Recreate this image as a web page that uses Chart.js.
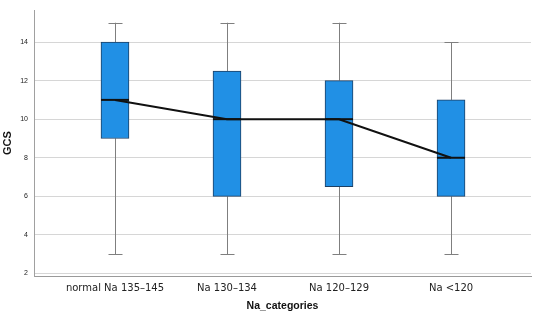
<!DOCTYPE html>
<html>
<head>
<meta charset="utf-8">
<script src="https://cdn.jsdelivr.net/npm/chart.js@4.4.0/dist/chart.umd.min.js"></script>
<style>
  html, body { margin: 0; padding: 0; background: #fff; }
  #wrap { width: 536px; height: 318px; position: relative; }
</style>
</head>
<body>
<div id="wrap"><canvas id="box-chart"></canvas></div>
<script>
const categories = ['normal Na 135\u2013145', 'Na 130\u2013134', 'Na 120\u2013129', 'Na <120'];
const mins = [3, 3, 3, 3];
const q1s = [9, 6, 6.5, 6];
const medians = [11, 10, 10, 8];
const q3s = [14, 12.5, 12, 11];
const maxs = [15, 15, 15, 14];
const yTicks = [2, 4, 6, 8, 10, 12, 14];

const FONT = '"Liberation Sans", Arial, sans-serif';
const TICK_FONT = '"DejaVu Sans", sans-serif';

// whiskers, caps and median bars drawn through the scales
const boxExtras = {
  id: 'boxExtras',
  beforeDatasetsDraw(chart) {
    const { ctx, scales: { x, y } } = chart;
    ctx.save();
    ctx.strokeStyle = '#7f7f7f';
    ctx.lineWidth = 1;
    categories.forEach((c, i) => {
      const cx = Math.round(x.getPixelForValue(i)) + 0.5;
      const capW = 7;
      ctx.beginPath();
      ctx.moveTo(cx, y.getPixelForValue(q3s[i]));
      ctx.lineTo(cx, y.getPixelForValue(maxs[i]));
      ctx.moveTo(cx, y.getPixelForValue(q1s[i]));
      ctx.lineTo(cx, y.getPixelForValue(mins[i]));
      const yt = Math.round(y.getPixelForValue(maxs[i])) + 0.5;
      const yb = Math.round(y.getPixelForValue(mins[i])) + 0.5;
      ctx.moveTo(cx - capW, yt);
      ctx.lineTo(cx + capW, yt);
      ctx.moveTo(cx - capW, yb);
      ctx.lineTo(cx + capW, yb);
      ctx.stroke();
    });
    ctx.restore();
  },
  afterDatasetsDraw(chart) {
    const { ctx, scales: { x, y } } = chart;
    const meta = chart.getDatasetMeta(1);
    ctx.save();
    ctx.strokeStyle = '#111';
    ctx.lineWidth = 2;
    meta.data.forEach((bar, i) => {
      const half = bar.width / 2;
      const cx = x.getPixelForValue(i);
      const my = y.getPixelForValue(medians[i]);
      ctx.beginPath();
      ctx.moveTo(cx - half, my);
      ctx.lineTo(cx + half, my);
      ctx.stroke();
    });
    ctx.restore();
  }
};

const ctx = document.getElementById('box-chart');
new Chart(ctx, {
  type: 'bar',
  data: {
    datasets: [
      {
        type: 'line',
        data: medians.map((v, i) => ({ x: i, y: v })),
        borderColor: '#111',
        borderWidth: 2,
        pointRadius: 0,
        fill: false,
        tension: 0,
        order: 0
      },
      {
        data: categories.map((c, i) => ({ x: i, y: [q1s[i], q3s[i]] })),
        backgroundColor: '#2190e5',
        borderColor: '#1d3f63',
        borderWidth: 1,
        borderSkipped: false,
        barThickness: 28,
        order: 1
      }
    ]
  },
  options: {
    responsive: true,
    maintainAspectRatio: false,
    animation: false,
    layout: { padding: { top: 5, right: 5, left: 0, bottom: 0 } },
    plugins: {
      legend: { display: false },
      tooltip: { enabled: false }
    },
    scales: {
      x: {
        type: 'linear',
        offset: false,
        min: -0.723,
        max: 3.714,
        afterBuildTicks(scale) {
          scale.ticks = categories.map((c, i) => ({ value: i }));
        },
        afterFit(scale) { scale.height = 42; },
        grid: { display: false, drawTicks: false, offset: false },
        border: { display: true, color: '#9a9a9a', width: 1 },
        ticks: {
          padding: 6,
          color: '#222',
          font: { family: TICK_FONT, size: 10 },
          callback: (v) => categories[v]
        },
        title: {
          display: true,
          text: 'Na_categories',
          color: '#111',
          font: { family: FONT, size: 10.5, weight: 'bold' },
          padding: { top: 0, bottom: 6 }
        }
      },
      y: {
        min: 1.87,
        max: 15.65,
        afterBuildTicks(scale) {
          scale.ticks = yTicks.map(v => ({ value: v }));
        },
        afterFit(scale) { scale.width = 34; },
        grid: { color: '#d6d6d6', lineWidth: 1, drawTicks: false },
        border: { display: true, color: '#a0a0a0', width: 1 },
        ticks: {
          padding: 6,
          color: '#222',
          font: { family: FONT, size: 7 }
        },
        title: {
          display: true,
          text: 'GCS',
          color: '#111',
          font: { family: FONT, size: 11, weight: 'bold' },
          padding: { top: 1, bottom: 0 }
        }
      }
    }
  },
  plugins: [boxExtras]
});
</script>
</body>
</html>
